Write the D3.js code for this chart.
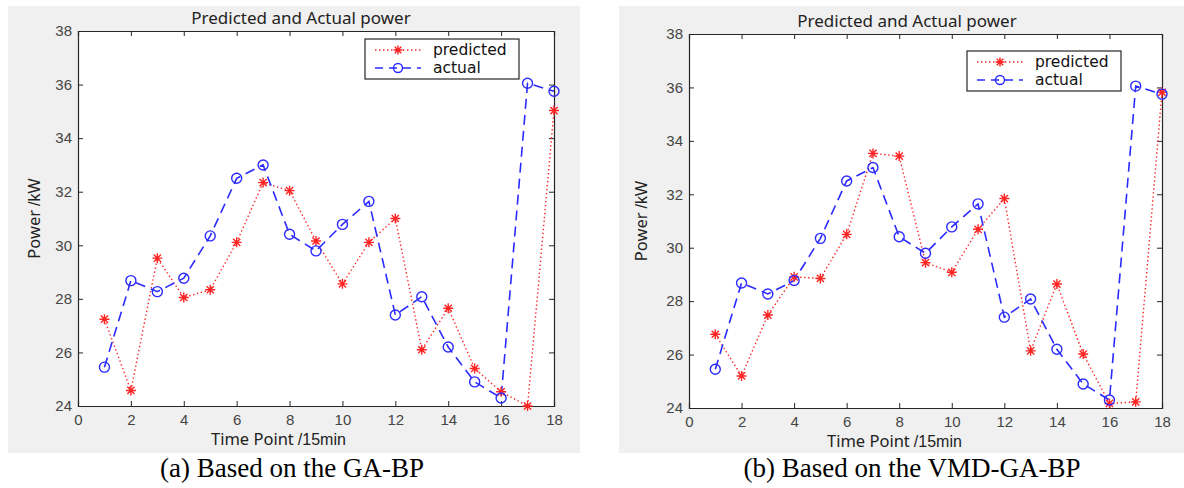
<!DOCTYPE html>
<html lang="en">
<head>
<meta charset="UTF-8">
<title>Predicted and Actual power</title>
<script src="https://cdn.jsdelivr.net/npm/d3@7"></script>
<style>
  body { margin: 0; background: #fff; }
  .tick text { font-family: "Liberation Sans", Arial, sans-serif; font-size: 15px; fill: #454545; }
  .domain, .tick line { stroke: #262626; }
</style>
</head>
<body>
<svg id="chart" width="1184" height="488"></svg>
<script>
// data
var timePoints = [1,2,3,4,5,6,7,8,9,10,11,12,13,14,15,16,17,18];
var xTicks = [0,2,4,6,8,10,12,14,16,18];
var yTicks = [24,26,28,30,32,34,36,38];
var actualPower = [25.45,28.68,28.27,28.77,30.35,32.5,33.0,30.41,29.79,30.78,31.64,27.4,28.08,26.2,24.9,24.3,36.05,35.75];
var predictedGABP = [27.24,24.58,29.52,28.05,28.34,30.11,32.34,32.04,30.16,28.56,30.11,31.0,26.1,27.65,25.4,24.53,24.0,35.03];
var predictedVMD = [26.76,25.2,27.48,28.91,28.85,30.5,33.53,33.43,29.44,29.08,30.69,31.84,26.14,28.64,26.02,24.17,24.23,35.82];
var legendLabels = ["predicted", "actual"];
var captions = ["(a) Based on the GA-BP", "(b) Based on the VMD-GA-BP"];

var RED = "#ff2424", BLUE = "#2b2bff";
var svg = d3.select("#chart");

function star(s) {
  var d = s * 0.72;
  return "M" + (-s) + ",0L" + s + ",0M0," + (-s) + "L0," + s +
    "M" + (-d) + "," + (-d) + "L" + d + "," + d + "M" + (-d) + "," + d + "L" + d + "," + (-d);
}

function drawPanel(p, predicted, caption) {
  // gray figure background
  svg.append("rect").attr("x", p.bx).attr("y", p.by).attr("width", p.bw).attr("height", p.bh).attr("fill", "#f0f0f0");

  var x = d3.scaleLinear().domain([0, 18]).range([p.l, p.r]);
  var y = d3.scaleLinear().domain([24, 38]).range([p.b, p.t]);

  svg.append("rect").attr("x", p.l).attr("y", p.t).attr("width", p.r - p.l).attr("height", p.b - p.t)
    .attr("fill", "#fff");

  svg.append("g").attr("transform", "translate(0," + p.b + ")")
    .call(d3.axisBottom(x).tickValues(xTicks).tickSize(-5).tickPadding(8).tickFormat(d3.format("d")));
  svg.append("g").attr("transform", "translate(0," + p.t + ")")
    .call(d3.axisTop(x).tickValues(xTicks).tickSize(-5).tickFormat(""));
  svg.append("g").attr("transform", "translate(" + p.l + ",0)")
    .call(d3.axisLeft(y).tickValues(yTicks).tickSize(-5).tickPadding(6).tickFormat(d3.format("d")));
  svg.append("g").attr("transform", "translate(" + p.r + ",0)")
    .call(d3.axisRight(y).tickValues(yTicks).tickSize(-5).tickFormat(""));
  svg.selectAll(".domain").attr("stroke-width", 1.2);

  var line = d3.line().x(function(d, i){ return x(timePoints[i]); }).y(function(d){ return y(d); });

  svg.append("path").datum(predicted).attr("d", line).attr("fill", "none")
    .attr("stroke", RED).attr("stroke-width", 1.4).attr("stroke-dasharray", "1.4,2.6");
  svg.append("path").datum(actualPower).attr("d", line).attr("fill", "none")
    .attr("stroke", BLUE).attr("stroke-width", 1.6).attr("stroke-dasharray", "10,6");

  svg.append("g").selectAll("path").data(predicted).enter().append("path")
    .attr("d", star(5)).attr("transform", function(d, i){ return "translate(" + x(timePoints[i]) + "," + y(d) + ")"; })
    .attr("stroke", RED).attr("stroke-width", 1.4).attr("fill", "none");
  svg.append("g").selectAll("circle").data(actualPower).enter().append("circle")
    .attr("cx", function(d, i){ return x(timePoints[i]); }).attr("cy", function(d){ return y(d); })
    .attr("r", 5).attr("stroke", BLUE).attr("stroke-width", 1.4).attr("fill", "none");

  // title
  svg.append("text").attr("x", p.tx).attr("y", p.t - 7).attr("text-anchor", "middle")
    .attr("font-family", "'Noto Sans', sans-serif").attr("font-size", 17).attr("fill", "#222")
    .text("Predicted and Actual power");

  // axis labels
  var xl = svg.append("text").attr("x", p.xlx).attr("y", p.b + 39).attr("fill", "#222");
  xl.append("tspan").attr("font-family", "'Noto Sans', sans-serif").attr("font-size", 16.5).text("Time Point");
  xl.append("tspan").attr("font-family", "'Liberation Sans', Arial, sans-serif").attr("font-size", 16).attr("dx", 4).text("/15min");

  var yl = svg.append("text").attr("transform", "translate(" + (p.l - p.ylo) + "," + ((p.t + p.b) / 2) + ") rotate(-90)")
    .attr("text-anchor", "middle").attr("fill", "#222");
  yl.append("tspan").attr("font-family", "'Noto Sans', sans-serif").attr("font-size", 16.5).text("Power");
  yl.append("tspan").attr("font-family", "'Liberation Sans', Arial, sans-serif").attr("font-size", 16).attr("dx", 4).text("/kW");

  // legend
  var lg = svg.append("g").attr("transform", "translate(" + p.lgx + "," + p.lgy + ")");
  lg.append("rect").attr("width", 154).attr("height", 40).attr("fill", "#fff").attr("stroke", "#262626").attr("stroke-width", 1.2);
  var rows = [{color: RED, dash: "1.4,2.6", mark: "star"},
              {color: BLUE, dash: "8,6", mark: "circle"}];
  rows.forEach(function(r, i) {
    var cy = 11 + i * 18;
    lg.append("line").attr("x1", 10).attr("x2", 56).attr("y1", cy).attr("y2", cy)
      .attr("stroke", r.color).attr("stroke-width", 1.5).attr("stroke-dasharray", r.dash);
    if (r.mark === "star") {
      lg.append("path").attr("d", star(4.5)).attr("transform", "translate(33," + cy + ")")
        .attr("stroke", r.color).attr("stroke-width", 1.4).attr("fill", "none");
    } else {
      lg.append("circle").attr("cx", 33).attr("cy", cy).attr("r", 4.5)
        .attr("stroke", r.color).attr("stroke-width", 1.4).attr("fill", "none");
    }
    lg.append("text").attr("x", 68).attr("y", cy + 5)
      .attr("font-family", "'DejaVu Sans', sans-serif").attr("font-size", 15.5).attr("fill", "#111")
      .text(legendLabels[i]);
  });

  // caption under the figure
  svg.append("text").attr("x", p.cx).attr("y", 477).attr("text-anchor", "middle")
    .attr("font-family", "'Liberation Serif', 'Times New Roman', serif").attr("font-size", 27)
    .attr("fill", "#000").text(caption);
}

drawPanel({bx: 8, by: 6, bw: 572, bh: 447, l: 78, t: 31, r: 554, b: 406,
           tx: 301, xlx: 211, ylo: 38, lgx: 365, lgy: 39, cx: 292}, predictedGABP, captions[0]);
drawPanel({bx: 619, by: 6, bw: 565, bh: 447, l: 689, t: 34, r: 1162, b: 408,
           tx: 907, xlx: 827, ylo: 42, lgx: 967, lgy: 51, cx: 912}, predictedVMD, captions[1]);
</script>
</body>
</html>
